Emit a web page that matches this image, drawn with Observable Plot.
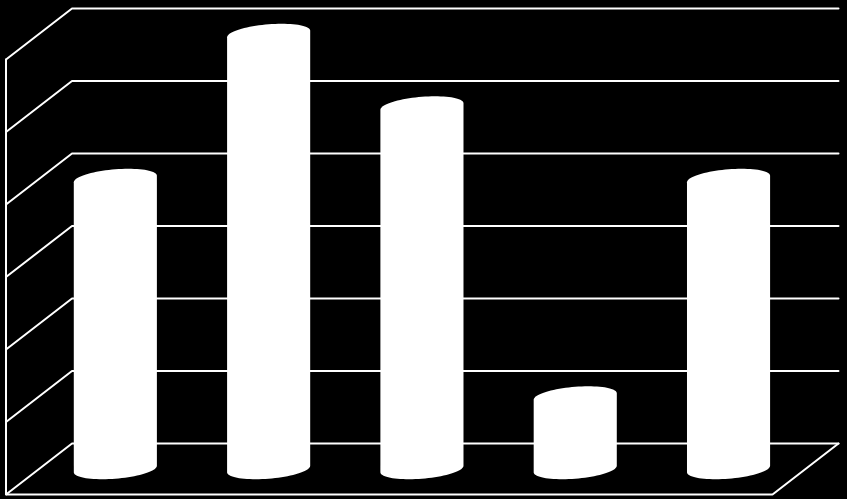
<!DOCTYPE html>
<html>
<head>
<meta charset="utf-8">
<style>html,body{margin:0;padding:0;background:#000;overflow:hidden}svg{display:block}</style>
<script src="https://cdn.jsdelivr.net/npm/d3@7"></script>
<script src="https://cdn.jsdelivr.net/npm/@observablehq/plot@0.6"></script>
</head>
<body>
<div id="chart"></div>
<script>
const categories = ["1", "2", "3", "4", "5"];
const values = [4, 6, 5, 1, 4];
const gridValues = [0, 1, 2, 3, 4, 5, 6];

// Oblique 3D view, in scale units: how far the back wall sits from the front plane
const depthX = 0.4305;
const depthY = 0.7034;
const project = (cat, value, depth) => ({
  x: cat + depth * depthX,
  y: value - (1 - depth) * depthY
});

const grid = gridValues.flatMap((v) => [
  {...project(0, v, 0), z: v},
  {...project(0, v, 1), z: v},
  {...project(categories.length, v, 1), z: v}
]);
const edges = [
  {...project(0, gridValues.at(-1), 0), z: "left"},
  {...project(0, 0, 0), z: "left"},
  {...project(categories.length, 0, 0), z: "left"},
  {...project(categories.length, 0, 1), z: "left"}
];

// Cylinder outline: a disc on the value plane at the top, another on the floor
const radiusCat = 0.257;
const radiusDepth = 0.2;
const startAngle = Math.atan2(radiusDepth * depthX, radiusCat);
const steps = 40;
const disc = (i, value, t) => project(
  i + 0.498 + radiusCat * Math.cos(t),
  value,
  0.5 + radiusDepth * Math.sin(t)
);
const cylinders = values.flatMap((v, i) => {
  const top = d3.range(steps + 1).map((k) => disc(i, v, startAngle + Math.PI * k / steps));
  const bottom = d3.range(steps + 1).map((k) => disc(i, 0, startAngle + Math.PI + Math.PI * k / steps));
  return [...top, ...bottom].map((p) => ({...p, z: categories[i]}));
});

const chart = Plot.plot({
  width: 847,
  height: 499,
  margin: 0,
  style: {background: "#000"},
  x: {domain: [0, categories.length], range: [5.5, 772], axis: null},
  y: {domain: [0, gridValues.at(-1)], range: [443, 8], axis: null},
  marks: [
    Plot.line(grid, {x: "x", y: "y", z: "z", stroke: "#fff", strokeWidth: 2, strokeLinejoin: "miter"}),
    Plot.line(edges, {x: "x", y: "y", z: "z", stroke: "#fff", strokeWidth: 2, strokeLinejoin: "miter"}),
    Plot.line(cylinders, {x: "x", y: "y", z: "z", fill: "#fff", stroke: "none"})
  ]
});
document.getElementById("chart").append(chart);
</script>
</body>
</html>
